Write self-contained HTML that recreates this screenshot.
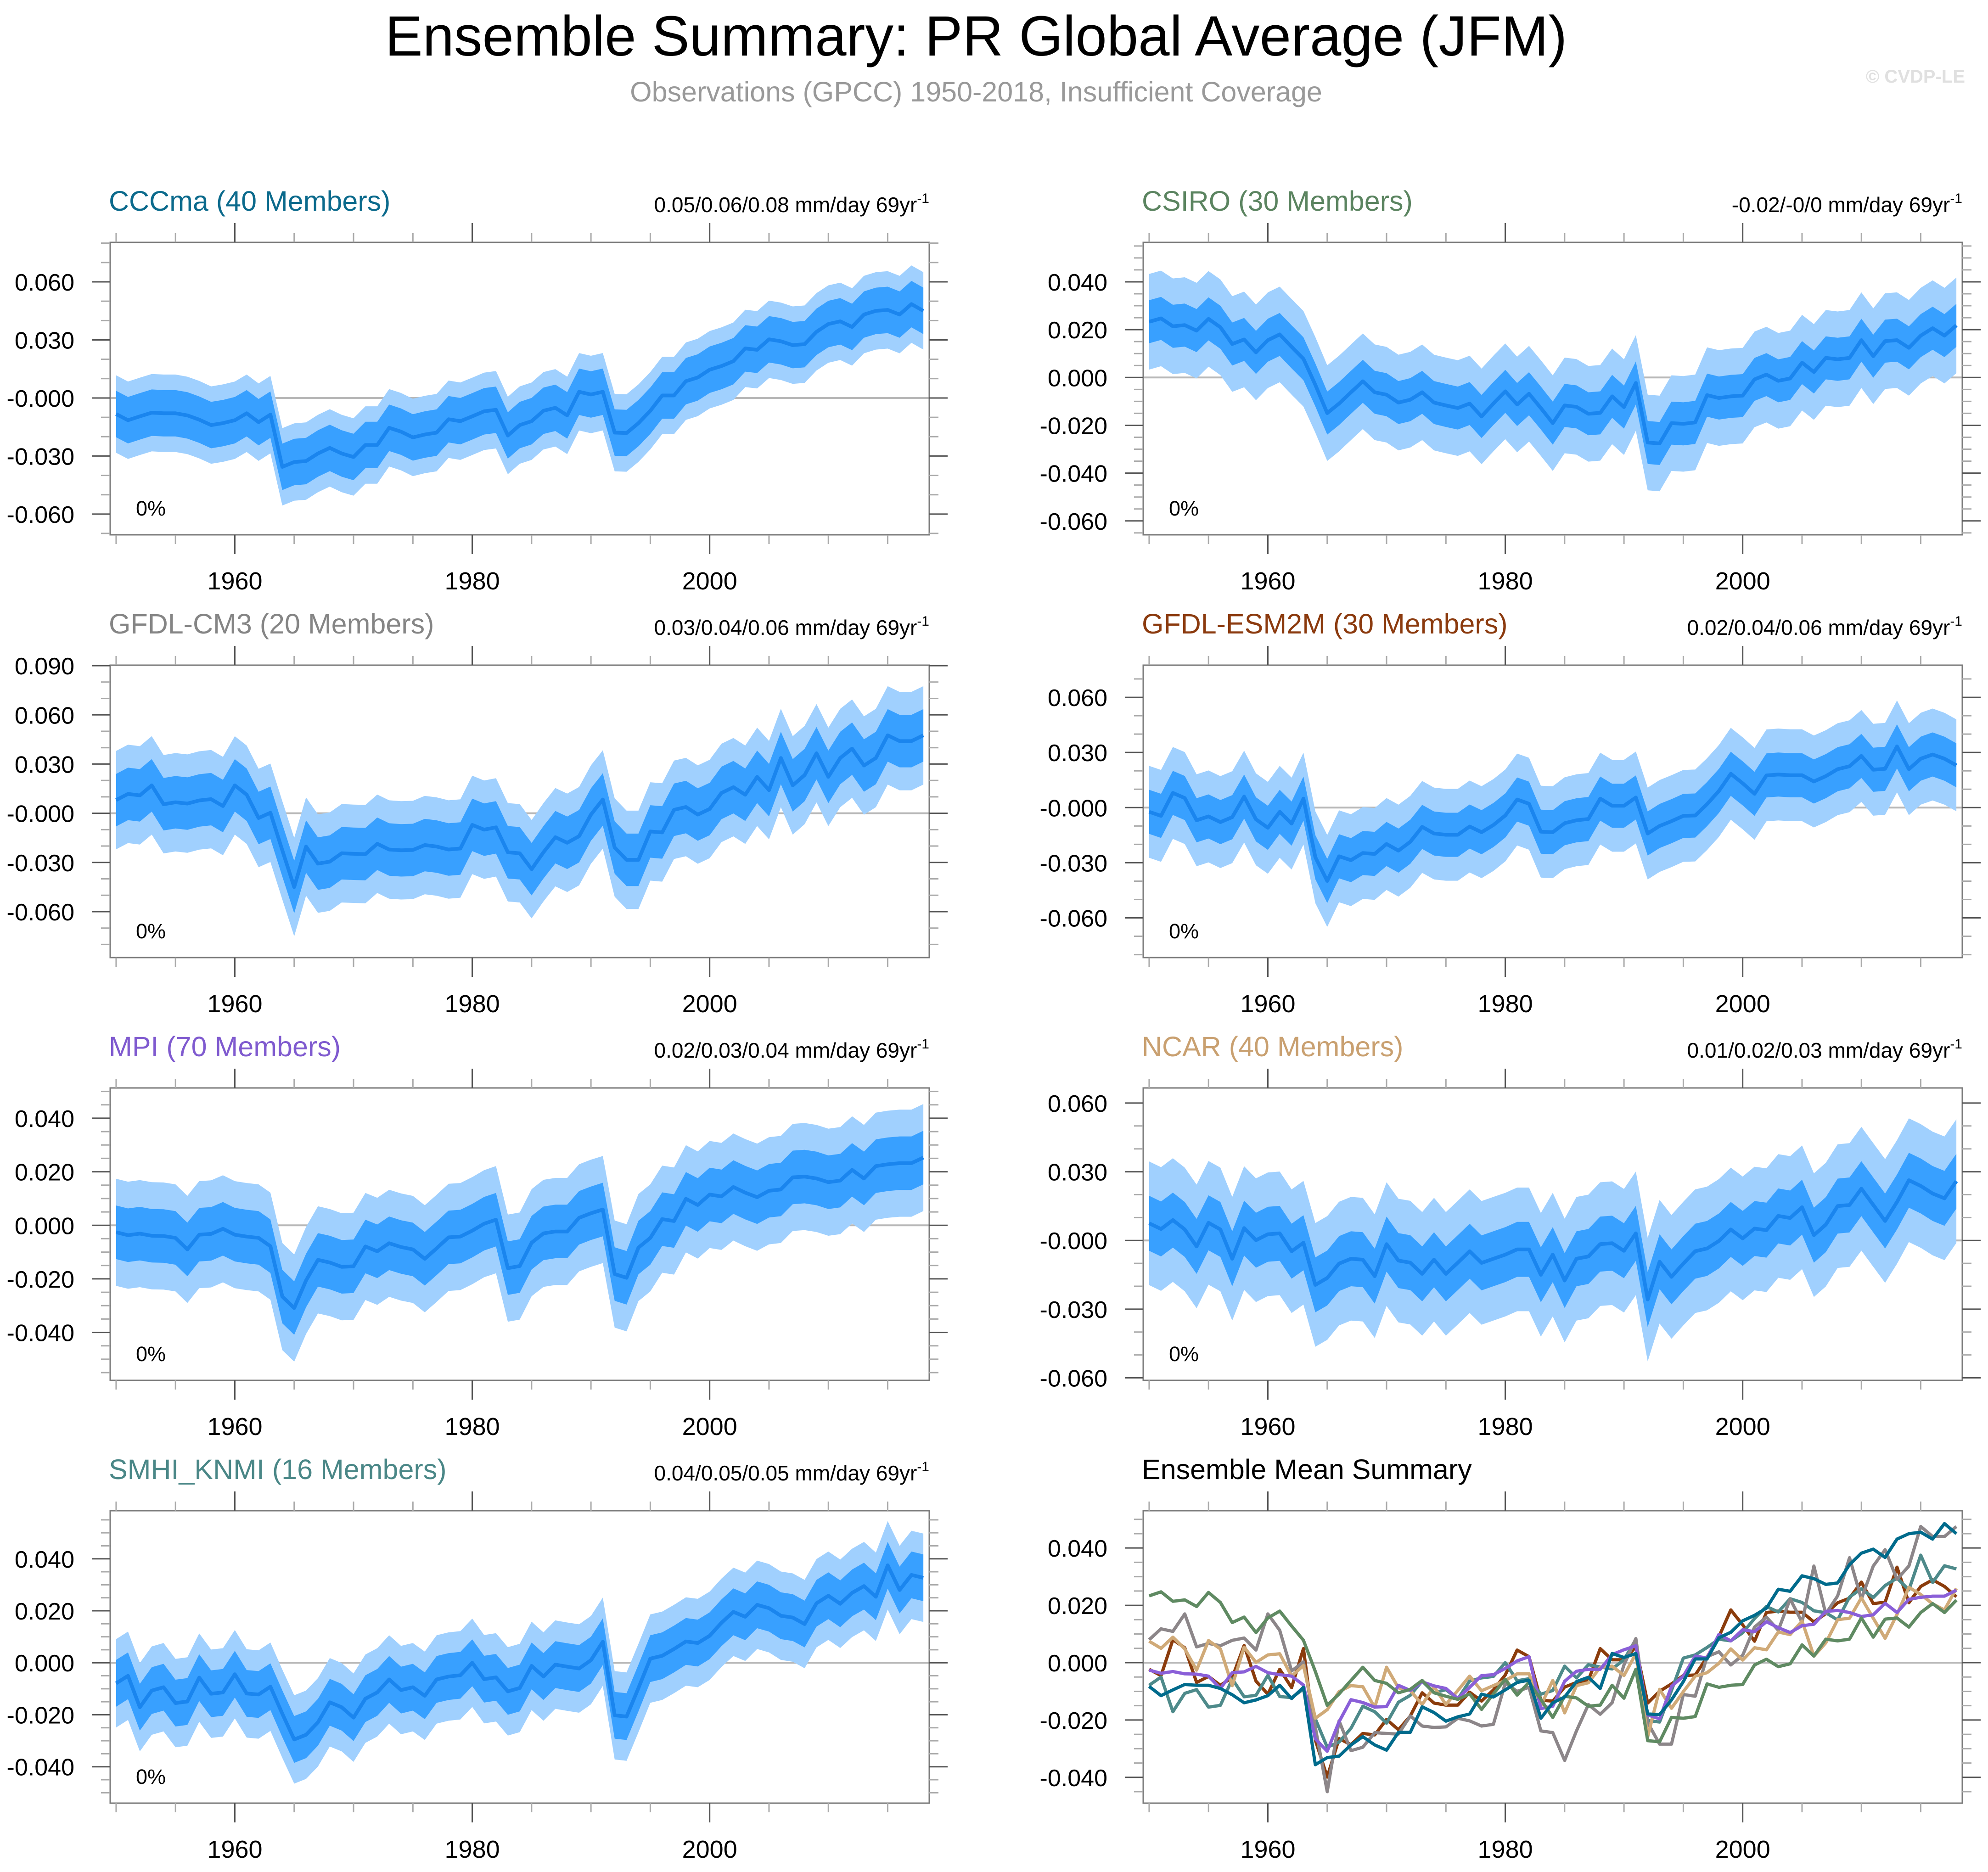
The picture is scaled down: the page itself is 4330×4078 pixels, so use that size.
<!DOCTYPE html>
<html><head><meta charset="utf-8"><title>Ensemble Summary: PR Global Average (JFM)</title>
<style>html,body{margin:0;padding:0;background:#fff}svg{display:block;font-family:"Liberation Sans",Arial,sans-serif}</style>
</head><body>
<svg id="chart" xmlns="http://www.w3.org/2000/svg" width="4330" height="4078" viewBox="0 0 4330 4078">
<rect width="4330" height="4078" fill="#fff"/>
<text x="2126" y="121" font-size="123" text-anchor="middle" fill="#000">Ensemble Summary: PR Global Average (JFM)</text>
<text x="2126" y="221" font-size="61" text-anchor="middle" fill="#999">Observations (GPCC) 1950-2018, Insufficient Coverage</text>
<text x="4280" y="180" font-size="40" font-weight="bold" text-anchor="end" fill="#e0e0e0">© CVDP-LE</text>
</svg>
<script>
const startYear = 1950;
const nYears = 69;
const modelNames = ["CCCma (40 Members)","CSIRO (30 Members)","GFDL-CM3 (20 Members)","GFDL-ESM2M (30 Members)","MPI (70 Members)","NCAR (40 Members)","SMHI_KNMI (16 Members)"];
const trendLabels = ["0.05/0.06/0.08 mm/day 69yr","-0.02/-0/0 mm/day 69yr","0.03/0.04/0.06 mm/day 69yr","0.02/0.04/0.06 mm/day 69yr","0.02/0.03/0.04 mm/day 69yr","0.01/0.02/0.03 mm/day 69yr","0.04/0.05/0.05 mm/day 69yr"];
const innerSpread = [0.012,0.009,0.016,0.012,0.010,0.012,0.009];
const outerSpread = [0.020,0.020,0.030,0.025,0.020,0.027,0.017];
const cccmaMean = [-0.0083,-0.0115,-0.0095,-0.0076,-0.0079,-0.0079,-0.009,-0.0112,-0.014,-0.013,-0.0115,-0.0079,-0.0125,-0.0086,-0.0356,-0.0331,-0.0326,-0.0287,-0.0258,-0.0287,-0.0305,-0.0243,-0.0243,-0.0154,-0.0174,-0.0204,-0.0189,-0.0179,-0.011,-0.012,-0.0095,-0.0069,-0.0061,-0.0194,-0.014,-0.012,-0.0066,-0.0051,-0.009,0.0032,0.0018,0.0032,-0.0179,-0.0181,-0.013,-0.0066,0.0013,0.0013,0.0087,0.0106,0.0146,0.0165,0.019,0.0256,0.0249,0.0303,0.0293,0.0273,0.0278,0.0342,0.0382,0.0396,0.0367,0.0431,0.045,0.0455,0.0431,0.0485,0.045];
const csiroMean = [0.0233,0.0247,0.0214,0.0219,0.0196,0.0245,0.021,0.014,0.0159,0.0105,0.0156,0.018,0.0128,0.0078,-0.0031,-0.0149,-0.0109,-0.0062,-0.0016,-0.0062,-0.0072,-0.0105,-0.0093,-0.0062,-0.0105,-0.0117,-0.0128,-0.0109,-0.0163,-0.0109,-0.0058,-0.0113,-0.0068,-0.0128,-0.0191,-0.0117,-0.0123,-0.0152,-0.0148,-0.0079,-0.0124,-0.0023,-0.0272,-0.0276,-0.0191,-0.0194,-0.0188,-0.0074,-0.0086,-0.0079,-0.0076,-0.0008,0.0012,-0.0014,-0.0004,0.0062,0.0023,0.0082,0.0076,0.0082,0.0156,0.0089,0.0152,0.0156,0.0124,0.0175,0.0206,0.0175,0.0218];
const gfdlcm3Mean = [0.008,0.0118,0.0109,0.017,0.0055,0.0067,0.0059,0.0078,0.0086,0.0044,0.017,0.0113,-0.0029,0.0003,-0.0226,-0.045,-0.0203,-0.0307,-0.0295,-0.0244,-0.0247,-0.0249,-0.0186,-0.0221,-0.0226,-0.0224,-0.0194,-0.0203,-0.0221,-0.0215,-0.0071,-0.01,-0.0086,-0.0238,-0.0244,-0.0341,-0.0238,-0.0146,-0.018,-0.014,-0.0008,0.0084,-0.0209,-0.0284,-0.0284,-0.0111,-0.0117,0.0021,0.0038,-0.0008,0.0026,0.0124,0.0159,0.0113,0.0222,0.0141,0.0337,0.017,0.0233,0.0366,0.0222,0.0337,0.0394,0.0291,0.0337,0.0475,0.044,0.044,0.0475];
const gfdlesmMean = [-0.0023,-0.0045,0.008,0.0052,-0.0069,-0.0048,-0.0079,-0.0052,0.006,-0.0064,-0.011,-0.0023,-0.0087,0.0049,-0.027,-0.0399,-0.0265,-0.0286,-0.0247,-0.0252,-0.0198,-0.0234,-0.0186,-0.0105,-0.0141,-0.0148,-0.0148,-0.0103,-0.0134,-0.0095,-0.0043,0.0044,0.0021,-0.0131,-0.0134,-0.0085,-0.0069,-0.0062,0.0049,0.001,0.001,0.0055,-0.0141,-0.01,-0.0074,-0.0045,-0.0043,0.0019,0.0091,0.0184,0.0132,0.0075,0.0175,0.018,0.0176,0.0176,0.0142,0.0171,0.0209,0.0225,0.0281,0.0206,0.0211,0.0333,0.0209,0.0266,0.0289,0.0266,0.023];
const mpiMean = [-0.0026,-0.0037,-0.0031,-0.0039,-0.004,-0.0047,-0.009,-0.0035,-0.0032,-0.0013,-0.0035,-0.0042,-0.0047,-0.0078,-0.0266,-0.0309,-0.0206,-0.0129,-0.0139,-0.0155,-0.0153,-0.0079,-0.0097,-0.0067,-0.0081,-0.009,-0.0125,-0.0086,-0.0045,-0.0042,-0.002,0.0006,0.0021,-0.016,-0.0152,-0.0065,-0.003,-0.0023,-0.0023,0.0028,0.0045,0.0059,-0.0182,-0.0196,-0.0083,-0.0047,0.0023,0.0016,0.0099,0.0076,0.0115,0.0108,0.0143,0.0122,0.0105,0.0129,0.0134,0.0179,0.0182,0.0175,0.0161,0.0167,0.0207,0.0175,0.0221,0.0228,0.0232,0.0232,0.0253];
const ncarMean = [0.0075,0.005,0.0089,0.0048,-0.0026,0.0077,0.0048,-0.008,0.0054,0.0001,0.0027,0.0031,-0.0047,-0.001,-0.0194,-0.0164,-0.0101,-0.008,-0.0084,-0.0156,-0.0016,-0.0088,-0.0097,-0.0146,-0.0084,-0.0146,-0.0097,-0.0047,-0.0098,-0.008,-0.0062,-0.0039,-0.0039,-0.015,-0.0062,-0.0175,-0.008,-0.007,-0.0016,-0.0012,-0.0045,0.0031,-0.0258,-0.0093,-0.0159,-0.0101,-0.0047,-0.0035,-0.0002,0.0048,0.0009,0.0052,0.0045,0.0107,0.0098,0.0145,0.0023,0.0069,0.015,0.0155,0.0226,0.0155,0.0085,0.0168,0.0263,0.0238,0.0205,0.0184,0.0259];
const smhiMean = [-0.0079,-0.005,-0.0171,-0.0107,-0.0094,-0.0155,-0.0149,-0.0057,-0.0119,-0.0114,-0.0044,-0.0118,-0.0122,-0.0092,-0.0196,-0.0295,-0.0277,-0.0229,-0.0152,-0.0171,-0.0211,-0.0138,-0.0114,-0.0064,-0.0105,-0.0094,-0.0127,-0.0064,-0.0053,-0.0048,0,-0.0063,-0.0056,-0.011,-0.0097,-0.0012,-0.0053,-0.0007,-0.0015,-0.0022,0.001,0.0081,-0.0202,-0.0207,-0.0097,0.0016,0.0027,0.0053,0.0082,0.0076,0.0104,0.0154,0.0196,0.0177,0.0223,0.021,0.0181,0.0174,0.0149,0.0229,0.0258,0.0227,0.0269,0.0295,0.0254,0.0375,0.028,0.0338,0.0327];
const allMeans = [cccmaMean,csiroMean,gfdlcm3Mean,gfdlesmMean,mpiMean,ncarMean,smhiMean];
const xTickLabels = ["1960","1980","2000"];

const titleColors = ["#0b6a8c","#5b8460","#858585","#8b3a0e","#7f5acf","#c9a070","#4a8787"];
const lineColors = ["#006b8c","#5f8a62","#8c8689","#8b3c0c","#8a5fd8","#d0aa78","#4e8a8a"];
const S = "http://www.w3.org/2000/svg";
const svg = document.getElementById('chart');
const W = 1784, H = 637;
const lefts = [240, 2490], tops = [528, 1449, 2370, 3291];
const axes = [
 {lo:-0.0707,hi:0.0804,maj:[0.06,0.03,0,-0.03,-0.06],mn:0.01,neg:true},
 {lo:-0.0658,hi:0.0565,maj:[0.04,0.02,0,-0.02,-0.04,-0.06],mn:0.005,neg:false},
 {lo:-0.088,hi:0.0903,maj:[0.09,0.06,0.03,0,-0.03,-0.06],mn:0.01,neg:true},
 {lo:-0.0816,hi:0.0775,maj:[0.06,0.03,0,-0.03,-0.06],mn:0.01,neg:true},
 {lo:-0.0579,hi:0.0513,maj:[0.04,0.02,0,-0.02,-0.04],mn:0.005,neg:false},
 {lo:-0.0611,hi:0.0666,maj:[0.06,0.03,0,-0.03,-0.06],mn:0.01,neg:true},
 {lo:-0.054,hi:0.0585,maj:[0.04,0.02,0,-0.02,-0.04],mn:0.005,neg:false},
 {lo:-0.049,hi:0.053,maj:[0.04,0.02,0,-0.02,-0.04],mn:0.005,neg:false}
];
function mk(tag, attrs, parent){const e=document.createElementNS(S,tag);for(const k in attrs)e.setAttribute(k,attrs[k]);(parent||svg).appendChild(e);return e;}
function line(g,x1,y1,x2,y2,c,w){const l=mk('line',{x1,y1,x2,y2,stroke:c,'stroke-width':w},g);return l;}

for(let p=0;p<8;p++){
  const L=lefts[p%2], T=tops[Math.floor(p/2)], ax=axes[p];
  const xs=yr=>L+(yr-(startYear-0.5))/nYears*W;
  const ys=v=>T+(ax.hi-v)/(ax.hi-ax.lo)*H;
  const g=mk('g',{});
  
  
  const cid='clip'+p;
  const cp=mk('clipPath',{id:cid},g); mk('rect',{x:L,y:T,width:W,height:H},cp);
  const pg=mk('g',{'clip-path':'url(#'+cid+')'},g);
  const z=mk('line',{x1:L,x2:L+W,y1:ys(0),y2:ys(0),stroke:'#b8b8b8','stroke-width':4},pg);
   
  if(p<7){
    const m=allMeans[p];
    const band=(k,color,name)=>{
      let up='',dn='';
      for(let i=0;i<m.length;i++){up+=(i?'L':'M')+xs(startYear+i).toFixed(1)+','+ys(m[i]+k).toFixed(1);}
      for(let i=m.length-1;i>=0;i--){dn+='L'+xs(startYear+i).toFixed(1)+','+ys(m[i]-k).toFixed(1);}
      const b=mk('path',{d:up+dn+'Z',fill:color},pg);
       
    };
    band(outerSpread[p],'#a0d0fe','outer-spread-band');
    band(innerSpread[p],'#38a0ff','inner-spread-band');
    let d='';for(let i=0;i<m.length;i++)d+=(i?'L':'M')+xs(startYear+i).toFixed(1)+','+ys(m[i]).toFixed(1);
    const ml=mk('path',{d,fill:'none',stroke:'#1a85ee','stroke-width':8,'stroke-linejoin':'round'},pg);
     
    const pc=mk('text',{x:L+56,y:T+595,'font-size':45,fill:'#000'},g); pc.textContent='0%';
     
    const tl=mk('text',{x:L+W,y:T-66,'font-size':46,'text-anchor':'end',fill:'#000'},g);
     
    tl.appendChild(document.createTextNode(trendLabels[p]));
    const sp=mk('tspan',{dy:-20,'font-size':30},tl); sp.textContent='-1';
    const tt=mk('text',{x:L-3,y:T-69,'font-size':61,fill:titleColors[p]},g); tt.textContent=modelNames[p];
     
  } else {
    const order=[3,6,2,5,4,1,0];
    order.forEach(k=>{
      const m=allMeans[k];let d='';
      for(let i=0;i<m.length;i++)d+=(i?'L':'M')+xs(startYear+i).toFixed(1)+','+ys(m[i]).toFixed(1);
      const ml=mk('path',{d,fill:'none',stroke:lineColors[k],'stroke-width':7,'stroke-linejoin':'round'},pg);
      
      
    });
    const tt=mk('text',{x:L-3,y:T-69,'font-size':61,fill:'#000'},g); tt.textContent='Ensemble Mean Summary';
     
  }
  const fr=mk('rect',{x:L,y:T,width:W,height:H,fill:'none',stroke:'#7a7a7a','stroke-width':3},g);
   
  for(let yr=1950;yr<=2015;yr+=5){
    const major=(yr%20===0);const x=xs(yr);const len=major?42:20;const c=major?'#555':'#aaa';
    line(g,x,T+H,x,T+H+len,c,3); line(g,x,T,x,T-len,c,3);
  }
  xTickLabels.forEach(lbl=>{
    const t=mk('text',{x:xs(+lbl),y:T+H+119,'font-size':54,'text-anchor':'middle',fill:'#000'},g);t.textContent=lbl;
     
  });
  const n0=Math.ceil(ax.lo/ax.mn-1e-6), n1=Math.floor(ax.hi/ax.mn+1e-6);
  for(let n=n0;n<=n1;n++){
    const v=n*ax.mn; if(ax.maj.some(q=>Math.abs(q-v)<1e-9))continue;
    const y=ys(v); line(g,L,y,L-20,y,'#aaa',3); line(g,L+W,y,L+W+20,y,'#aaa',3);
  }
  ax.maj.forEach(v=>{
    const y=ys(v); line(g,L,y,L-40,y,'#555',3); line(g,L+W,y,L+W+40,y,'#555',3);
    let s=Math.abs(v)<1e-9?(ax.neg?'-0.000':'0.000'):v.toFixed(3);
    const t=mk('text',{x:L-78,y:y+19,'font-size':52,'text-anchor':'end',fill:'#000'},g);t.textContent=s;
     
  });
}
</script>
</body></html>
